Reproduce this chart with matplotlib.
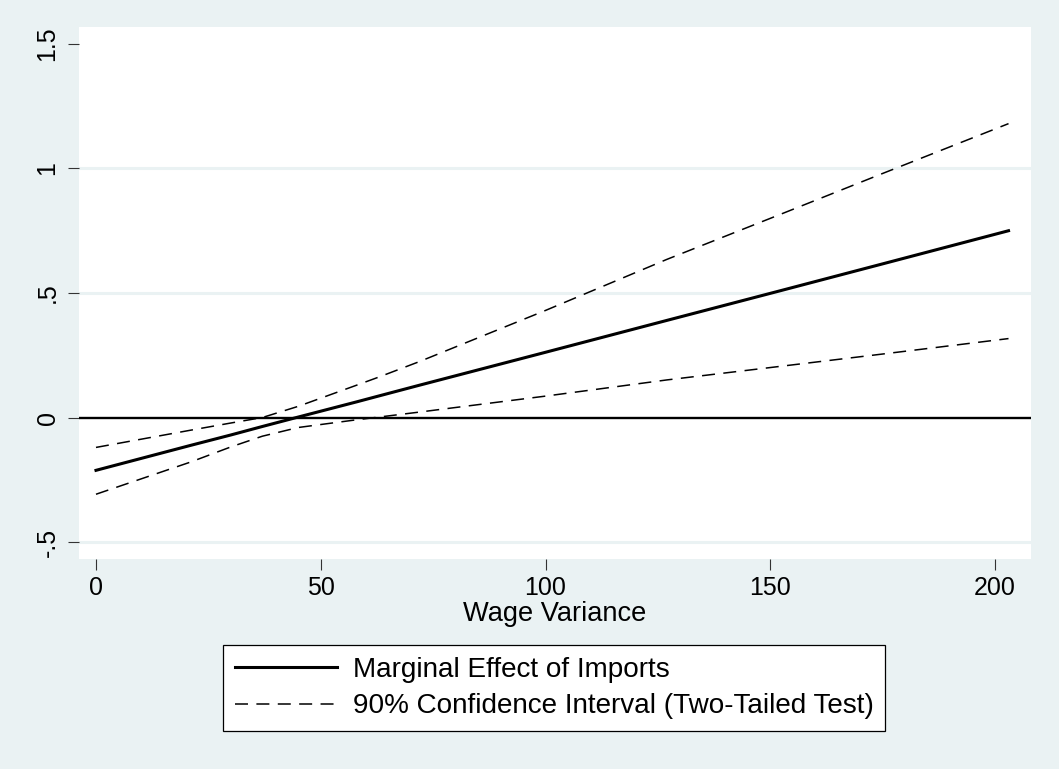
import matplotlib
matplotlib.use("Agg")
import matplotlib.pyplot as plt

plt.rcParams['font.family'] = ['Liberation Sans', 'DejaVu Sans']

# Data
wage_variance = [0, 21, 30, 37, 45, 58, 63, 72, 100, 127, 152, 175, 203]
marginal_effect = [-0.212, -0.112, -0.070, -0.036, 0.002, 0.063, 0.087, 0.130, 0.262, 0.390, 0.508, 0.617, 0.750]
ci_upper = [-0.120, -0.051, -0.022, 0.000, 0.045, 0.130, 0.163, 0.225, 0.430, 0.635, 0.814, 0.980, 1.180]
ci_lower = [-0.308, -0.179, -0.118, -0.075, -0.040, -0.009, 0.002, 0.022, 0.086, 0.151, 0.205, 0.255, 0.317]

xticks = [0, 50, 100, 150, 200]
xticklabels = ['0', '50', '100', '150', '200']
yticks = [-0.5, 0, 0.5, 1, 1.5]
yticklabels = ['-.5', '0', '.5', '1', '1.5']
grid_y = [-0.5, 0.5, 1]

bg = '#EAF2F3'
W, H = 1059, 769
fig = plt.figure(figsize=(W / 100, H / 100), dpi=100, facecolor=bg)
ax = fig.add_axes([79 / W, (H - 559) / H, (1031 - 79) / W, (559 - 27) / H])
ax.set_facecolor('white')

for g in grid_y:
    ax.axhline(g, color=bg, lw=2.2, zorder=1)
ax.axhline(0, color='black', lw=1.7, zorder=2)

ax.plot(wage_variance, marginal_effect, color='black', lw=2.2, zorder=3,
        label='Marginal Effect of Imports')
l1, = ax.plot(wage_variance, ci_upper, color='black', lw=1.1, zorder=3,
              label='90% Confidence Interval (Two-Tailed Test)')
l1.set_dashes((8.5, 5.5))
l2, = ax.plot(wage_variance, ci_lower, color='black', lw=1.1, zorder=3)
l2.set_dashes((8.5, 5.5))

ax.set_xlim(-3.78, 208.0)
ax.set_ylim(-0.568, 1.568)
ax.set_xticks(xticks)
ax.set_xticklabels(xticklabels)
ax.set_yticks(yticks)
ax.set_yticklabels(yticklabels, rotation=90, va='center')
for s in ax.spines.values():
    s.set_visible(False)
ax.tick_params(axis='both', labelsize=18, length=8, width=0.8, color='#333333')
ax.tick_params(axis='y', pad=6)
ax.tick_params(axis='x', pad=4)
ax.set_xlabel('Wage Variance', fontsize=19.6, labelpad=1)

handles, labels = ax.get_legend_handles_labels()
leg = fig.legend(handles, labels, loc='upper left',
                 bbox_to_anchor=(223 / W, 1 - 645 / H), fontsize=20.1,
                 frameon=True, fancybox=False, edgecolor='black',
                 facecolor='white', framealpha=1, handlelength=3.65,
                 handletextpad=0.58, borderpad=0.42, labelspacing=0.38,
                 borderaxespad=0)
leg.get_frame().set_linewidth(0.9)

fig.savefig('out.png', dpi=100, facecolor=bg)
